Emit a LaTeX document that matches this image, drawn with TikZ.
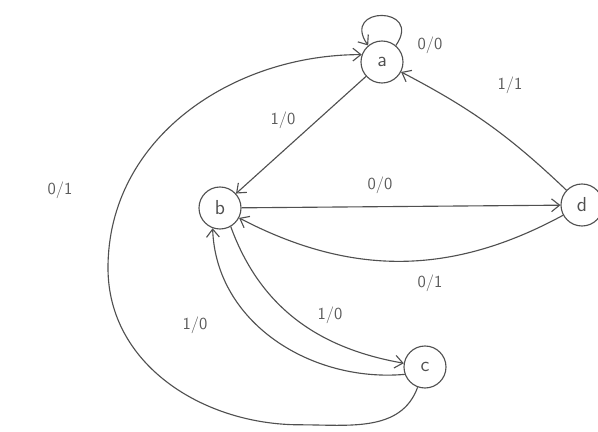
\documentclass[tikz,border=0pt]{standalone}
\usepackage{xcolor}
\usepackage{tikz}
\usetikzlibrary{positioning,arrows.meta}
\definecolor{inkcol}{RGB}{80,80,80}
\definecolor{labcol}{RGB}{90,90,90}

\begin{document}
\begin{tikzpicture}[
  state/.style={circle,draw=inkcol,minimum size=1.05cm,inner sep=0pt,
                font=\Large\sffamily,text=inkcol,line width=0.8pt},
  lab/.style={font=\large\sffamily,text=labcol},
  arr/.style={-{Straight Barb[length=2mm,width=3.2mm]},line width=0.8pt,inkcol},
]
\useasboundingbox (0,0) rectangle (14.95,10.8);
% states
\node[state] (a) at (9.55,9.25) {a};
\node[state] (b) at (5.5,5.6) {b};
\node[state] (c) at (10.625,1.625) {c};
\node[state] (d) at (14.55,5.675) {d};
% via points of the long arc
\coordinate (bot) at (7.5,0.18);
\coordinate (lft) at (2.7,4.1);
% transitions
\draw[arr] (a.50) to[out=55,in=125,looseness=4.5] (a.130);
\draw[arr] (a) -- (b);
\draw[arr] (d) to[bend right=8] (a);
\draw[arr] (b) -- (d);
\draw[arr] (d) to[bend left=28] (b);
\draw[arr] (b.-60) to[out=-70,in=170] (c.170);
\draw[arr] (c.-160) to[out=185,in=-88] (b.-110);
\draw[arr] (c.-110) to[out=-110,in=0] (bot) to[out=180,in=-90] (lft)
  to[out=90,in=180] (a.160);
% labels
\node[lab] (l00a) at (10.75,9.675) {0/0};
\node[lab] (l11)  at (12.75,8.675) {1/1};
\node[lab] (l10a) at (7.075,7.8) {1/0};
\node[lab] (l00b) at (9.5,6.175) {0/0};
\node[lab] (l01a) at (10.75,3.725) {0/1};
\node[lab] (l10b) at (8.25,2.925) {1/0};
\node[lab] (l10c) at (4.875,2.675) {1/0};
\node[lab] (l01b) at (1.5,6.05) {0/1};
\end{tikzpicture}
\end{document}
